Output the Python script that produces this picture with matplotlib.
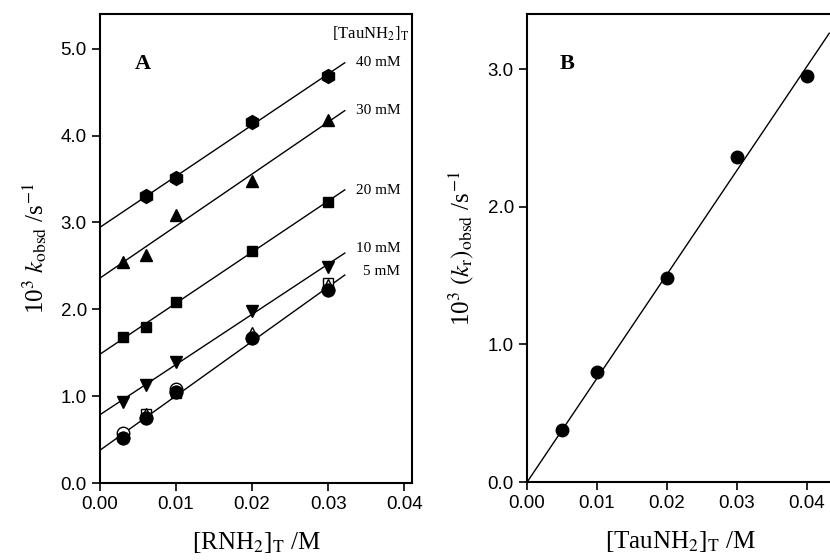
import numpy as np
import matplotlib
matplotlib.use('Agg')
import matplotlib.pyplot as plt

plt.rcParams['mathtext.fontset'] = 'stix'
plt.rcParams['font.family'] = 'Liberation Sans'

# panel A: k_obsd vs [RNH2]T for each [TauNH2]T
rnh2 = [0.003, 0.006, 0.01, 0.02, 0.03]
k_40 = [3.30, 3.51, 4.16, 4.69]          # starts at 0.006
k_30 = [2.55, 2.63, 3.09, 3.48, 4.18]
k_20 = [1.68, 1.80, 2.08, 2.67, 3.24]
k_10 = [0.93, 1.13, 1.39, 1.98, 2.49]
k_5 = [0.52, 0.75, 1.05, 1.67, 2.22]
# extra (open) 5 mM runs
open_circ_x = [0.003, 0.01]
open_circ_y = [0.58, 1.08]
open_tri_x = [0.006, 0.02, 0.03]
open_tri_y = [0.80, 1.73, 2.28]
open_sq_x = [0.006, 0.01, 0.03]
open_sq_y = [0.80, 1.04, 2.30]
conc_labels = ['40 mM', '30 mM', '20 mM', '10 mM', '5 mM']

# panel B: (k_r)obsd vs [TauNH2]T
tau = [0.005, 0.01, 0.02, 0.03, 0.04]
kr = [0.38, 0.80, 1.48, 2.36, 2.95]

fig = plt.figure(figsize=(8.3, 5.6), dpi=100)
axA = fig.add_axes([0.1205, 0.1375, 0.3755, 0.8375])
axB = fig.add_axes([0.635, 0.139, 0.37, 0.836])

serif = 'Liberation Serif'

series = [(rnh2[1:], k_40, 'h', 10), (rnh2, k_30, '^', 9), (rnh2, k_20, 's', 7.5),
          (rnh2, k_10, 'v', 9), (rnh2, k_5, 'o', 9)]
label_y = [4.84, 4.29, 3.37, 2.70, 2.43]
label_x = [0.0337, 0.0337, 0.0337, 0.0337, 0.0346]
xfit = np.array([0.0, 0.0322])
for (x, y, m, ms), lab, ly, lx in zip(series, conc_labels, label_y, label_x):
    p = np.polyfit(x, y, 1)
    axA.plot(xfit, np.polyval(p, xfit), color='black', lw=1)
    axA.plot(x, y, m, color='black', ms=ms, zorder=3)
    axA.text(lx, ly, lab, family=serif, fontsize=11, va='center', ha='left')

axA.plot(open_sq_x, open_sq_y, 's', mfc='white', mec='black', ms=7.5, zorder=2)
axA.plot(open_tri_x, open_tri_y, '^', mfc='white', mec='black', ms=9, zorder=2)
axA.plot(open_circ_x, open_circ_y, 'o', mfc='white', mec='black', ms=9, zorder=2)
axA.plot(rnh2, k_5, 'o', color='black', ms=9, zorder=3)

axA.text(0.0356, 5.17, r'[TauNH$_2$]$_{\rm T}$', family=serif, fontsize=12,
         ha='center', va='center')
axA.text(0.0046, 4.83, 'A', family=serif, fontsize=16, fontweight='bold',
         va='center')

axA.set_xlim(0, 0.041)
axA.set_ylim(0, 5.4)
axA.set_xticks([0.0, 0.01, 0.02, 0.03, 0.04])
axA.set_xticklabels(['0.00', '0.01', '0.02', '0.03', '0.04'])
axA.set_yticks([0, 1, 2, 3, 4, 5])
axA.set_yticklabels(['0.0', '1.0', '2.0', '3.0', '4.0', '5.0'])
axA.set_xlabel(r'[RNH$_2$]$_{\rm T}$ /M', family=serif, fontsize=18, labelpad=12)
axA.set_ylabel(r'10$^3$ $k_{\rm obsd}$ /s$^{-1}$', family=serif, fontsize=18,
               labelpad=8)

# panel B
pB = np.sum(np.array(tau) * np.array(kr)) / np.sum(np.array(tau) ** 2)
xb = np.array([0.0, 0.0432])
axB.plot(xb, pB * xb, color='black', lw=1)
axB.plot(tau, kr, 'o', color='black', ms=9)
axB.text(0.0047, 3.04, 'B', family=serif, fontsize=16, fontweight='bold',
         va='center')
axB.set_xlim(0, 0.0439)
axB.set_ylim(0, 3.4)
axB.set_xticks([0.0, 0.01, 0.02, 0.03, 0.04])
axB.set_xticklabels(['0.00', '0.01', '0.02', '0.03', '0.04'])
axB.set_yticks([0, 1, 2, 3])
axB.set_yticklabels(['0.0', '1.0', '2.0', '3.0'])
axB.spines['right'].set_visible(False)
axB.set_xlabel(r'[TauNH$_2$]$_{\rm T}$ /M', family=serif, fontsize=18, labelpad=12)
axB.set_ylabel(r'10$^3$ $(k_{\rm r})_{\rm obsd}$ /s$^{-1}$', family=serif,
               fontsize=18, labelpad=8)

for ax in (axA, axB):
    for s in ax.spines.values():
        s.set_linewidth(1.5)
    ax.tick_params(direction='out', length=6, width=1.2, labelsize=13.5,
                   colors='black')

fig.savefig('out.png', dpi=100)
